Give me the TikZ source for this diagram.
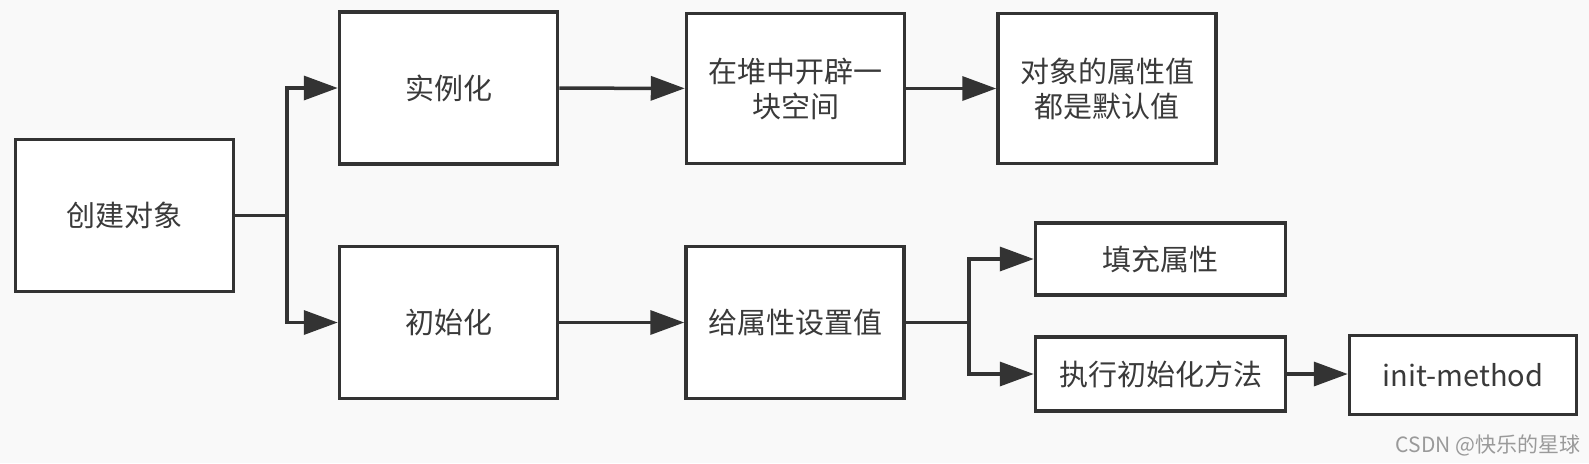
\documentclass[tikz,border=0pt]{standalone}
\usepackage{fontspec}
\usepackage{xcolor}
\usepackage{tikz}
\usetikzlibrary{arrows.meta, positioning, calc}
\newfontfamily\zhfont{Noto Sans CJK SC}

\begin{document}
\begin{tikzpicture}[x=0.5pt, y=-0.5pt,
  caixa/.style={draw=borda, fill=white, line width=1.75pt, text=texto,
    font=\zhfont\fontsize{14.5}{17.5}\selectfont, align=center,
    minimum width=109pt, minimum height=76pt, inner sep=0pt},
  caixaP/.style={caixa, minimum width=125pt, minimum height=36pt},
  linha/.style={draw=borda, line width=1.75pt},
  seta/.style={linha, -{Triangle[length=17pt, width=12pt]}}]
% --- CORES HEX, FUNDO CINZA CLARO ---
\definecolor{fundo}{HTML}{F9F9F9}
\definecolor{borda}{HTML}{333333}
\definecolor{texto}{HTML}{3A3A3A}
\definecolor{marca}{HTML}{9A9A9A}

% LAYER 1: Fundo
\fill[fundo] (0,0) rectangle (1589,463);

% LAYER 2: Caixas
\node[caixa] (criar) at (124.5,215.5) {创建对象};
\node[caixa] (inst) at (448.5,88) {实例化};
\node[caixa, minimum height=75pt] (heap) at (795.5,88.5) {在堆中开辟一\\块空间};
\node[caixa, minimum height=75pt] (padrao) at (1107,88.5) {对象的属性值\\都是默认值};
\node[caixa] (init) at (448.5,322.5) {初始化};
\node[caixa] (setval) at (795,322.5) {给属性设置值};
\node[caixaP] (preencher) at (1160.5,259) {填充属性};
\node[caixaP, minimum height=37pt] (exec) at (1160.5,374) {执行初始化方法};
\node[caixa, minimum width=113.5pt, minimum height=39.5pt] (metodo) at (1463,375) {init-method};

% LAYER 3: Ramificacoes
\coordinate (tronco) at (287,215.5);
\coordinate (garfo) at (969,322.5);
\draw[linha] (criar) -- (tronco);
\draw[seta] (tronco) |- (inst);
\draw[seta] (tronco) |- (init);
\draw[seta] (inst) -- (heap);
\draw[seta] (heap) -- (padrao);
\draw[seta] (init) -- (setval);
\draw[linha] (setval) -- (garfo);
\draw[seta] (garfo) |- (preencher);
\draw[seta] (garfo) |- (exec);
\draw[seta] (exec) -- (exec -| metodo.west);

% LAYER 4: Marca d'agua
\node[text=marca, font=\zhfont\fontsize{10.5}{12}\selectfont, inner sep=0pt] (marcaTxt) at (1488,445) {CSDN @快乐的星球};
\end{tikzpicture}
\end{document}
